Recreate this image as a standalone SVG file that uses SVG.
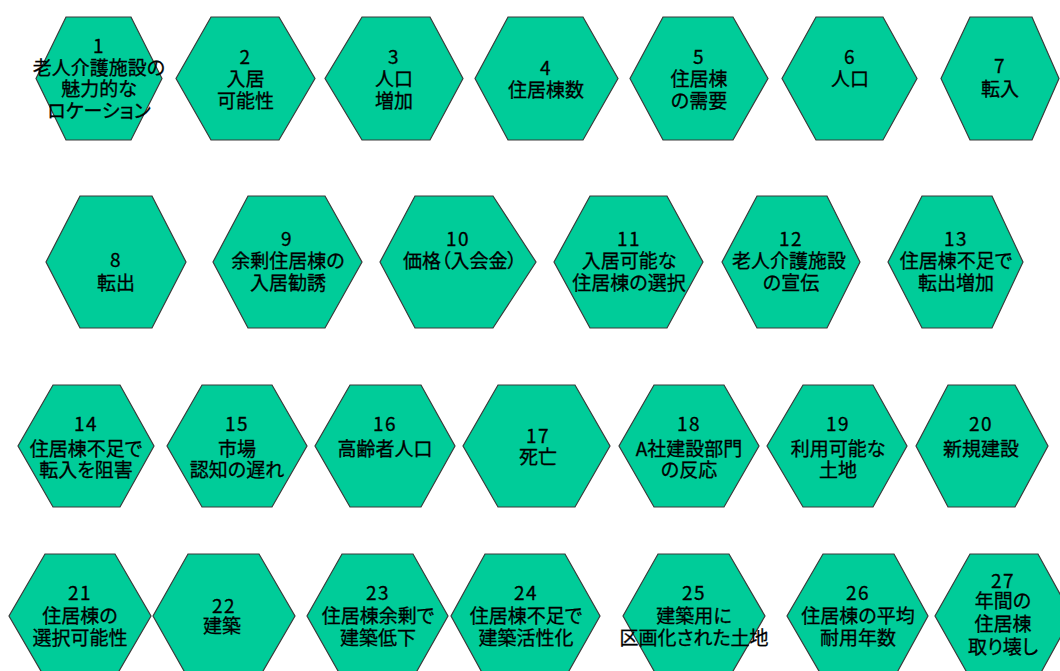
<svg xmlns="http://www.w3.org/2000/svg" width="1060" height="671" viewBox="0 0 1060 671">
<style>
.hex{fill:#00CC99;stroke:#3a3a3a;stroke-width:1.2}
text{font-family:"Noto Sans CJK JP","Noto Sans CJK SC",sans-serif;font-size:19px;fill:#000;stroke:#000;stroke-width:0.3;text-anchor:middle;font-feature-settings:"palt"}
.n{letter-spacing:1.5px}
</style>
<rect width="1060" height="671" fill="#fff"/>
<g id="connectors"></g>
<g id="n1"><polygon class="hex" points="66,17 131,17 162,78.5 131,140 66,140 36,78.5"/>
<text><tspan x="99" y="53" class="n">1</tspan><tspan x="99" y="75">老人介護施設の</tspan><tspan x="99" y="96">魅力的な</tspan><tspan x="99" y="118">ロケーション</tspan></text></g>
<g id="n2"><polygon class="hex" points="211,17 279,17 315,78.5 279,140 211,140 176,78.5"/>
<text><tspan x="245.5" y="64" class="n">2</tspan><tspan x="245.5" y="86">入居</tspan><tspan x="245.5" y="108">可能性</tspan></text></g>
<g id="n3"><polygon class="hex" points="362,17 430,17 463,78.5 430,140 362,140 325,78.5"/>
<text><tspan x="394" y="64" class="n">3</tspan><tspan x="394" y="86">人口</tspan><tspan x="394" y="108">増加</tspan></text></g>
<g id="n4"><polygon class="hex" points="508,17 583,17 618,78.5 583,140 508,140 475,78.5"/>
<text><tspan x="546" y="75" class="n">4</tspan><tspan x="546" y="97">住居棟数</tspan></text></g>
<g id="n5"><polygon class="hex" points="663,17 733,17 768,78.5 733,140 663,140 630,78.5"/>
<text><tspan x="699" y="64" class="n">5</tspan><tspan x="699" y="86">住居棟</tspan><tspan x="699" y="108">の需要</tspan></text></g>
<g id="n6"><polygon class="hex" points="816,17 883,17 917,78.5 883,140 816,140 782,78.5"/>
<text><tspan x="850" y="64" class="n">6</tspan><tspan x="850" y="86">人口</tspan></text></g>
<g id="n7"><polygon class="hex" points="970,17 1032,17 1059,78.5 1032,140 970,140 941,78.5"/>
<text><tspan x="1000" y="73" class="n">7</tspan><tspan x="1000" y="96">転入</tspan></text></g>

<g id="n8"><polygon class="hex" points="80,196 152,196 186,262 152,328 80,328 46,262"/>
<text><tspan x="116" y="267" class="n">8</tspan><tspan x="116" y="290">転出</tspan></text></g>
<g id="n9"><polygon class="hex" points="248,196 325,196 362,262 325,328 248,328 213,262"/>
<text><tspan x="287" y="246" class="n">9</tspan><tspan x="288" y="268">余剰住居棟の</tspan><tspan x="288" y="290">入居勧誘</tspan></text></g>
<g id="n10"><polygon class="hex" points="415,196 493,196 536,262 493,328 415,328 380,262"/>
<text><tspan x="458" y="246" class="n">10</tspan><tspan x="460" y="268">価格（入会金）</tspan></text></g>
<g id="n11"><polygon class="hex" points="590,196 667,196 703,262 667,328 590,328 554,262"/>
<text><tspan x="629" y="246" class="n">11</tspan><tspan x="629" y="268">入居可能な</tspan><tspan x="629" y="290">住居棟の選択</tspan></text></g>
<g id="n12"><polygon class="hex" points="757,196 827,196 860,262 827,328 757,328 722,262"/>
<text><tspan x="791" y="246" class="n">12</tspan><tspan x="789" y="268">老人介護施設</tspan><tspan x="791" y="290">の宣伝</tspan></text></g>
<g id="n13"><polygon class="hex" points="922,196 992,196 1023,262 992,328 922,328 888,262"/>
<text><tspan x="956" y="246" class="n">13</tspan><tspan x="956" y="268">住居棟不足で</tspan><tspan x="956" y="290">転出増加</tspan></text></g>

<g id="n14"><polygon class="hex" points="53,385 120,385 154,446 120,507 53,507 18,446"/>
<text><tspan x="86" y="431" class="n">14</tspan><tspan x="86" y="456">住居棟不足で</tspan><tspan x="86" y="477">転入を阻害</tspan></text></g>
<g id="n15"><polygon class="hex" points="202,385 272,385 307,446 272,507 202,507 167,446"/>
<text><tspan x="237" y="431" class="n">15</tspan><tspan x="237" y="456">市場</tspan><tspan x="237" y="477">認知の遅れ</tspan></text></g>
<g id="n16"><polygon class="hex" points="350,385 421,385 455,446 421,507 350,507 315,446"/>
<text><tspan x="385" y="431" class="n">16</tspan><tspan x="385" y="456">高齢者人口</tspan></text></g>
<g id="n17"><polygon class="hex" points="498,385 575,385 610,446 575,507 498,507 463,446"/>
<text><tspan x="538" y="443" class="n">17</tspan><tspan x="538" y="464">死亡</tspan></text></g>
<g id="n18"><polygon class="hex" points="654,385 724,385 759,446 724,507 654,507 619,446"/>
<text><tspan x="689" y="431" class="n">18</tspan><tspan x="689" y="456">A社建設部門</tspan><tspan x="689" y="477">の反応</tspan></text></g>
<g id="n19"><polygon class="hex" points="803,385 873,385 907,446 873,507 803,507 767,446"/>
<text><tspan x="838" y="431" class="n">19</tspan><tspan x="838" y="456">利用可能な</tspan><tspan x="838" y="477">土地</tspan></text></g>
<g id="n20"><polygon class="hex" points="948,385 1015,385 1048,446 1015,507 948,507 916,446"/>
<text><tspan x="981" y="431" class="n">20</tspan><tspan x="981" y="456">新規建設</tspan></text></g>

<g id="n21"><polygon class="hex" points="45,554 115,554 151,616 115,678 45,678 9,616"/>
<text><tspan x="80" y="600" class="n">21</tspan><tspan x="80" y="623">住居棟の</tspan><tspan x="80" y="645">選択可能性</tspan></text></g>
<g id="n22"><polygon class="hex" points="188,554 259,554 295,616 259,678 188,678 153,616"/>
<text><tspan x="224" y="613" class="n">22</tspan><tspan x="222" y="633">建築</tspan></text></g>
<g id="n23"><polygon class="hex" points="342,554 413,554 448,616 413,678 342,678 307,616"/>
<text><tspan x="378" y="600" class="n">23</tspan><tspan x="378" y="623">住居棟余剰で</tspan><tspan x="378" y="645">建築低下</tspan></text></g>
<g id="n24"><polygon class="hex" points="485,554 565,554 600,616 565,678 485,678 451,616"/>
<text><tspan x="526" y="600" class="n">24</tspan><tspan x="526" y="623">住居棟不足で</tspan><tspan x="526" y="645">建築活性化</tspan></text></g>
<g id="n25"><polygon class="hex" points="658,554 729,554 765,616 729,678 658,678 623,616"/>
<text><tspan x="694" y="600" class="n">25</tspan><tspan x="694" y="623">建築用に</tspan><tspan x="694" y="645">区画化された土地</tspan></text></g>
<g id="n26"><polygon class="hex" points="823,554 894,554 928,616 894,678 823,678 787,616"/>
<text><tspan x="858" y="600" class="n">26</tspan><tspan x="858" y="623">住居棟の平均</tspan><tspan x="858" y="645">耐用年数</tspan></text></g>
<g id="n27"><polygon class="hex" points="970,554 1038,554 1072,616 1038,678 970,678 935,616"/>
<text><tspan x="1003" y="588" class="n">27</tspan><tspan x="1003" y="608">年間の</tspan><tspan x="1003" y="631">住居棟</tspan><tspan x="1003" y="654">取り壊し</tspan></text></g>
</svg>
